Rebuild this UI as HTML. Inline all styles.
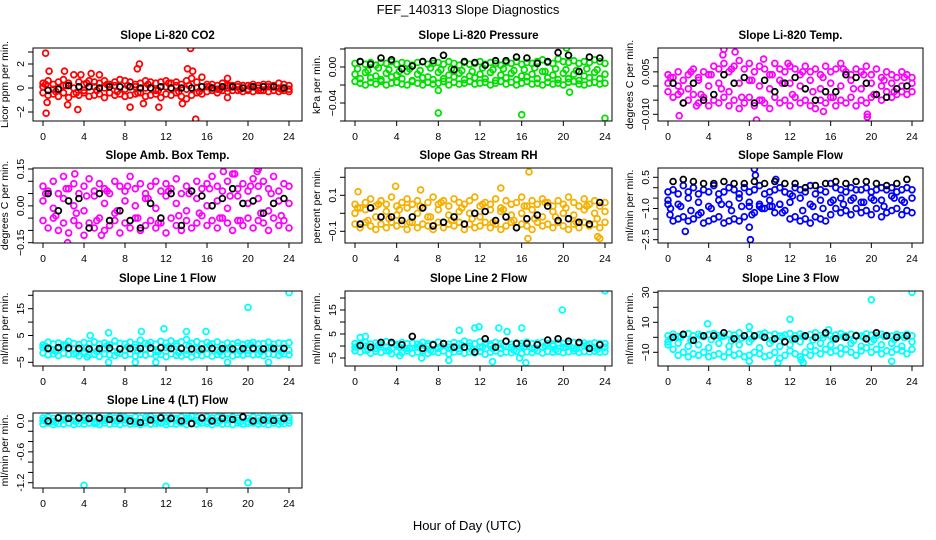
<!DOCTYPE html>
<html><head><meta charset="utf-8"><style>
html,body{margin:0;padding:0;background:#fff;}
svg{display:block;font-family:"Liberation Sans",Arial,sans-serif;}
</style></head><body>
<svg id="chart" width="936" height="540" viewBox="0 0 936 540" xmlns="http://www.w3.org/2000/svg">
<rect x="0" y="0" width="936" height="540" fill="#fff"/>
<text x="468" y="14" text-anchor="middle" font-size="13">FEF_140313  Slope Diagnostics</text>
<text x="467" y="530" text-anchor="middle" font-size="13">Hour of Day (UTC)</text>
</svg>
<script>
// ---- shared hour arrays ----
const hoursFull = [0,0.5,1,1.5,2,2.5,3,3.5,4,4.5,5,5.5,6,6.5,7,7.5,8,8.5,9,9.5,10,10.5,11,11.5,12,12.5,13,13.5,14,14.5,15,15.5,16,16.5,17,17.5,18,18.5,19,19.5,20,20.5,21,21.5,22,22.5,23,23.5,24];
const hoursInt = [0,1,2,3,4,5,6,7,8,9,10,11,12,13,14,15,16,17,18,19,20,21,22,23,24];
const hoursBlk = [0.5,1.5,2.5,3.5,4.5,5.5,6.5,7.5,8.5,9.5,10.5,11.5,12.5,13.5,14.5,15.5,16.5,17.5,18.5,19.5,20.5,21.5,22.5,23.5];
const hoursQ = [0.25,1.25,2.25,3.25,4.25,5.25,6.25,7.25,8.25,9.25,10.25,11.25,12.25,13.25,14.25,15.25,16.25,17.25,18.25,19.25,20.25,21.25,22.25,23.25];
const xTickLabels = [0,4,8,12,16,20,24];

// ---- CO2 ----
const co2Hi = [0.4,0.6,0.3,0.5,0.7,0.4,1.1,0.5,0.3,0.6,0.5,0.4,0.6,0.3,0.5,0.7,0.6,0.5,0.3,0.4,0.6,0.5,0.4,0.5,0.6,0.4,0.5,0.3,0.6,0.8,0.5,0.9,0.3,0.3,0.2,0.4,0.2,0.2,0.3,0.2,0.2,0.3,0.2,0.3,0.3,0.2,0.4,0.3,0.2];
const co2Lo = [-0.4,-0.6,-0.5,-0.7,-0.4,-0.8,-0.5,-0.6,-0.4,-0.7,-0.6,-0.5,-0.8,-0.4,-0.6,-0.5,-0.7,-0.6,-0.5,-0.4,-0.7,-0.6,-0.5,-0.8,-0.5,-0.6,-0.4,-0.7,-0.9,-0.6,-0.4,-0.5,-0.3,-0.2,-0.4,-0.2,-0.3,-0.2,-0.2,-0.3,-0.2,-0.3,-0.2,-0.2,-0.3,-0.2,-0.3,-0.2,-0.3];
const co2Mid = [0.1,-0.1,0.2,0,-0.2,0.1,0,0.2,-0.1,0.1,0,-0.2,0.1,0.2,-0.1,0,0.1,-0.1,0,0.1,-0.1,0,0.1,0,-0.1];
const co2Extra = [0.3,-0.3,0.2,-0.4,0.4,-0.2,0.3,-0.3,0.2,-0.4,0.3,-0.2,0.4,-0.3,0.2,-0.3,0.1,-0.1,0.2,-0.1,0.1,-0.2,0.1,-0.1];
const co2Blk = [-0.2,-0.1,0.2,0.1,0.1,0.0,0.1,0.1,0.1,0.0,0.0,0.1,0.0,0.0,0.0,0.1,0.0,0.1,0.1,0.0,0.1,0.1,0.1,0.0];
const co2OutT = [0.25,0.3,0.4,0.6,2.1,2.4,3.4,3.7,4.7,5.5,8.5,9.2,9.4,9.8,11.3,13.6,14.1,14.4,14.9,14.6,18,18];
const co2OutV = [2.9,-2.1,-1.2,1.4,1.4,-1.4,-1.8,1.1,1.2,1.1,-1.6,1.6,2.0,-1.3,-1.6,-1.3,1.6,3.3,-2.6,1.4,0.8,-0.8];
const co2YTicks = [-3,-2,-1,0,1,2,3];
const co2YLabels = [-2,0,2];

// ---- Pressure ----
const presHi = [0.004,0.006,0.003,0.005,0.002,0.005,0.004,0.006,0.003,0.005,0.004,0.002,0.005,0.006,0.003,0.004,0.005,0.003,0.006,0.004,0.002,0.005,0.003,0.004,0.006,0.003,0.005,0.004,0.002,0.005,0.004,0.006,0.003,0.005,0.004,0.006,0.008,0.005,0.004,0.009,0.006,0.005,0.007,0.004,0.006,0.005,0.008,0.006,0.004];
const presLo = [-0.016,-0.018,-0.020,-0.017,-0.019,-0.016,-0.020,-0.018,-0.017,-0.019,-0.020,-0.016,-0.018,-0.020,-0.017,-0.019,-0.018,-0.016,-0.020,-0.017,-0.019,-0.018,-0.016,-0.019,-0.018,-0.017,-0.020,-0.018,-0.016,-0.019,-0.017,-0.020,-0.018,-0.016,-0.019,-0.018,-0.020,-0.017,-0.019,-0.018,-0.020,-0.017,-0.016,-0.019,-0.020,-0.018,-0.017,-0.019,-0.018];
const presMid = [-0.008,-0.006,-0.010,-0.007,-0.009,-0.005,-0.008,-0.011,-0.006,-0.009,-0.007,-0.010,-0.008,-0.006,-0.009,-0.007,-0.010,-0.008,-0.005,-0.009,-0.007,-0.008,-0.010,-0.006,-0.008];
const presExtra = [-0.002,-0.004,-0.001,-0.003,-0.005,-0.002,-0.004,-0.001,-0.003,-0.002,-0.004,-0.005,-0.001,-0.003,-0.002,-0.004,-0.003,-0.001,-0.005,-0.002,-0.003,-0.004,-0.002,-0.003];
const presExtra2 = [-0.013,-0.012,-0.014,-0.011,-0.013,-0.015,-0.012,-0.014,-0.013,-0.011,-0.014,-0.012,-0.013,-0.015,-0.012,-0.014,-0.011,-0.013,-0.012,-0.014,-0.013,-0.015,-0.012,-0.013];
const presBlk = [0.006,0.003,0.010,0.008,-0.002,0.001,0.006,0.007,0.013,-0.003,0.006,0.005,0.002,0.007,0.007,0.011,0.010,0.004,0.006,0.016,0.013,-0.005,0.011,0.010];
const presOutT = [8,8,16,20.3,20.6,24];
const presOutV = [-0.026,-0.051,-0.053,0.021,-0.028,-0.057];
const presYTicks = [0.02,0,-0.02,-0.04,-0.06];
const presYLabels = [0,-0.04];

// ---- Li-820 Temp ----
const tempHi = [0.004,0.003,0.005,0.002,0.004,0.006,0.003,0.005,0.004,0.007,0.006,0.008,0.005,0.007,0.009,0.006,0.008,0.005,0.007,0.006,0.004,0.008,0.006,0.005,0.007,0.006,0.004,0.007,0.005,0.006,0.004,0.007,0.005,0.006,0.008,0.005,0.004,0.006,0.005,0.007,0.004,0.006,0.003,0.005,0.004,0.003,0.005,0.004,0.003];
const tempLo = [-0.002,-0.004,-0.003,-0.006,-0.005,-0.003,-0.006,-0.004,-0.007,-0.005,-0.006,-0.004,-0.007,-0.005,-0.008,-0.006,-0.004,-0.007,-0.005,-0.006,-0.008,-0.004,-0.006,-0.005,-0.007,-0.004,-0.006,-0.005,-0.007,-0.008,-0.005,-0.006,-0.004,-0.007,-0.005,-0.006,-0.004,-0.007,-0.005,-0.006,-0.004,-0.003,-0.005,-0.002,-0.004,-0.003,-0.002,-0.003,-0.002];
const tempMid = [0.001,0,-0.001,0.002,0,0.001,-0.002,0.001,0.002,0,-0.001,0.002,0.001,0,0.002,-0.001,0.001,0,0.002,-0.001,0.001,0,0.001,0,0.001];
const tempExtra = [0.003,-0.002,0.005,-0.003,0.004,-0.001,0.006,-0.004,0.002,-0.005,0.004,0.001,-0.003,0.005,-0.002,0.003,-0.004,0.006,-0.001,0.004,-0.003,0.002,-0.002,0.003];
const tempBlk = [0.001,-0.006,0.001,-0.005,-0.003,0.004,0.001,0.003,-0.006,0.002,-0.002,0.001,0.003,-0.001,-0.005,-0.002,-0.002,0.004,0.003,0.001,-0.003,-0.004,-0.001,0.000];
const tempOutT = [1.1,2.8,5.5,5.4,6.6,8.7,19.6,19.6,15.3,9.4,11.8];
const tempOutV = [-0.0105,-0.007,0.013,0.011,0.012,-0.012,-0.011,-0.010,-0.009,0.0095,0.008];
const tempYTicks = [0.010,0.005,0,-0.005,-0.010];
const tempYLabels = [0.005,-0.010];

// ---- Amb. Box Temp ----
const ambHi = [0.08,0.06,0.1,0.05,0.12,0.07,0.09,0.05,0.08,0.11,0.06,0.09,0.07,0.05,0.1,0.08,0.06,0.12,0.07,0.09,0.05,0.08,0.1,0.06,0.09,0.07,0.11,0.05,0.08,0.06,0.1,0.07,0.09,0.12,0.08,0.06,0.1,0.13,0.07,0.09,0.06,0.11,0.08,0.1,0.07,0.12,0.06,0.09,0.08];
const ambLo = [-0.06,-0.09,-0.05,-0.1,-0.07,-0.11,-0.06,-0.08,-0.12,-0.07,-0.09,-0.05,-0.1,-0.08,-0.06,-0.11,-0.07,-0.09,-0.05,-0.1,-0.08,-0.06,-0.09,-0.07,-0.11,-0.05,-0.08,-0.1,-0.06,-0.09,-0.07,-0.04,-0.08,-0.06,-0.09,-0.05,-0.07,-0.1,-0.06,-0.08,-0.05,-0.09,-0.06,-0.07,-0.1,-0.05,-0.08,-0.06,-0.09];
const ambMid = [0.02,-0.01,0.03,0,-0.02,0.04,0.01,-0.03,0.02,0,0.03,-0.01,0.04,0.01,-0.02,0.03,0,0.02,-0.01,0.04,0.01,0.03,-0.02,0.02,0.01];
const ambExtra = [0.05,-0.04,0.07,-0.03,0.04,-0.06,0.06,-0.02,0.08,-0.05,0.03,-0.07,0.06,-0.04,0.05,-0.03,0.07,-0.05,0.04,-0.06,0.08,-0.03,0.05,-0.04];
const ambBlk = [0.05,-0.02,0.02,0.03,-0.09,0.05,-0.06,-0.02,-0.06,-0.09,0.01,-0.05,0.05,-0.08,0.06,0.04,0.0,0.03,0.07,0.01,0.02,-0.03,0.01,0.03];
const ambOutT = [2.4,5.7,21,17.6,3.1,18.7,20.9];
const ambOutV = [-0.15,-0.12,0.15,0.14,0.13,0.13,0.14];
const ambYTicks = [0.15,0.1,0.05,0,-0.05,-0.1,-0.15];
const ambYLabels = [0.15,0.00,-0.15];

// ---- Gas Stream RH ----
const rhHi = [0.05,0.03,0.06,0.08,0.04,0.07,0.05,0.09,0.04,0.06,0.08,0.05,0.07,0.03,0.06,0.09,0.05,0.07,0.04,0.08,0.06,0.05,0.07,0.09,0.04,0.06,0.05,0.08,0.03,0.07,0.05,0.06,0.09,0.04,0.07,0.05,0.08,0.06,0.04,0.07,0.05,0.09,0.06,0.04,0.08,0.05,0.07,0.04,0.06];
const rhLo = [-0.06,-0.08,-0.05,-0.07,-0.09,-0.06,-0.08,-0.05,-0.07,-0.06,-0.09,-0.05,-0.08,-0.06,-0.07,-0.09,-0.05,-0.08,-0.06,-0.07,-0.05,-0.09,-0.06,-0.08,-0.07,-0.05,-0.08,-0.06,-0.09,-0.07,-0.05,-0.08,-0.06,-0.07,-0.09,-0.05,-0.07,-0.06,-0.08,-0.05,-0.07,-0.09,-0.06,-0.08,-0.05,-0.07,-0.06,-0.08,-0.05];
const rhMid = [0,0.02,-0.02,0.01,-0.01,0.03,0,-0.02,0.02,-0.01,0.01,0,-0.02,0.02,0.01,-0.01,0,0.02,-0.02,0.01,0,-0.01,0.02,0,0.01];
const rhExtra = [0.03,-0.04,0.05,-0.03,0.02,-0.05,0.04,-0.02,0.06,-0.04,0.03,-0.03,0.05,-0.05,0.02,-0.04,0.04,-0.03,0.06,-0.02,0.03,-0.05,0.04,-0.03];
const rhBlk = [-0.06,0.03,-0.02,-0.02,-0.04,-0.02,0.03,-0.07,-0.05,-0.02,-0.06,0.0,0.01,-0.04,-0.02,-0.08,-0.03,-0.01,0.04,-0.04,-0.03,-0.05,-0.06,0.06];
const rhOutT = [16.7,14,3.9,23.5,23.3,16.6,0.3,6.3];
const rhOutV = [0.23,0.14,0.15,-0.14,-0.13,-0.14,0.12,0.13];
const rhYTicks = [0.2,0.1,0,-0.1];
const rhYLabels = [0.1,-0.1];

// ---- Sample Flow ----
const sfHi = [-0.2,-0.1,-0.3,0.1,-0.2,0,-0.3,-0.1,-0.2,0.1,-0.3,-0.2,0,-0.1,-0.3,0,-0.2,-0.1,0.1,-0.3,-0.2,-0.1,0,-0.2,-0.3,0,-0.1,-0.2,0.1,-0.3,-0.1,-0.2,0.2,0,-0.1,-0.2,0,-0.1,-0.1,0,-0.2,-0.1,0,-0.1,0,-0.2,-0.1,0,-0.1];
const sfLo = [-0.8,-1.6,-1.5,-1.4,-1.6,-1.5,-1.3,-1.7,-1.6,-1.5,-1.4,-1.7,-1.6,-1.5,-1.6,-1.4,-0.9,-1.2,-0.8,-1.0,-0.9,-1.2,-0.8,-1.1,-1.5,-1.4,-1.6,-1.5,-1.7,-1.4,-1.5,-1.6,-1.3,-1.0,-1.2,-1.1,-1.3,-1.0,-1.2,-1.1,-1.3,-1.0,-1.4,-1.2,-1.1,-1.0,-1.3,-1.1,-1.2];
const sfMid = [-0.6,-0.8,-0.5,-0.7,-0.9,-0.6,-0.8,-0.5,-0.7,-0.9,-0.6,-0.8,-0.7,-0.5,-0.8,-0.6,-0.7,-0.5,-0.6,-0.7,-0.5,-0.6,-0.4,-0.6,-0.5];
const sfExtra = [-1.0,-0.9,-1.1,-1.2,-1.0,-0.8,-1.1,-0.9,-1.3,-1.0,-0.9,-1.2,-0.4,-1.1,-0.9,-1.0,-0.6,-0.8,-0.5,-0.7,-0.6,-0.9,-0.5,-0.7];
const sfBlk = [0.3,0.4,0.3,0.2,0.2,0.3,0.2,0.2,0.3,0.2,0.3,0.2,0.2,0.0,0.1,0.2,0.3,0.2,0.3,0.3,0.2,0.1,0.2,0.4];
const sfOutT = [8.5,8.6,1.7,8.1,10.6,0.2,8.0];
const sfOutV = [0.9,0.6,-2.1,-2.5,0.4,-1.3,-1.9];
const sfYTicks = [0.5,0,-0.5,-1.0,-1.5,-2.0,-2.5];
const sfYLabels = [0.5,-1.0,-2.5];

// ---- Line 1 Flow ----
const l1Hi = [1.5,2.5,1.8,2.2,1.5,2.8,2,1.6,2.4,1.9,2.6,1.7,2.2,1.5,2.9,2.1,1.8,2.5,1.6,3.2,2,2.4,1.7,2.8,2.2,3,1.9,2.6,3.5,2.1,2.7,1.8,2.4,1.9,2.6,1.5,2.2,1.8,2.3,1.6,2.1,2.4,1.8,2,2.5,1.7,2.2,1.9,2.3];
const l1Lo = [-1.5,-2.2,-1.8,-2.5,-1.6,-2.1,-1.9,-2.6,-1.7,-2.3,-2,-2.8,-1.8,-2.2,-2.5,-1.6,-2.4,-1.9,-2.7,-2,-2.3,-1.7,-2.5,-2.1,-2.9,-1.8,-2.4,-2.6,-2,-3,-2.2,-2.5,-1.9,-2.7,-2.1,-2.4,-1.8,-2.6,-2,-2.3,-1.7,-2.2,-2,-2.5,-1.8,-2.1,-2.4,-1.9,-2.2];
const l1Mid = [0.5,-0.5,1,0,-1,0.5,0,1,-0.5,0.5,0,-1,0.5,1,-0.5,0,0.5,-0.5,0,1,-0.5,0,0.5,0,-0.5];
const l1Extra = [1,-1,1.5,-1.5,0.5,-1,1.2,-1.3,0.8,-0.7,1.4,-1.1,0.9,-1.4,1.1,-0.8,1.3,-1.2,0.7,-0.9,1.5,-1,0.6,-1.2];
const l1Blk = [0.2,0.5,0.3,0.2,0,0.1,0.3,0,0.1,0.2,0.3,0.4,0.1,0.2,0,0,0.2,0.1,0,0.1,0.2,0,0.1,0.2];
const l1OutT = [20,24,6.4,11.8,14,15.9,6.4,9,18,22,11,9.6,4.3,4.6];
const l1OutV = [15.5,21,6,7.5,6.5,6.5,-5,-5,-5,-5,-5,6.5,-3,5];
const l1YTicks = [20,15,10,5,0,-5];
const l1YLabels = [15,5,-5];

// ---- Line 2 Flow ----
const l2Hi = [1,0.5,1.5,0.8,1.2,0.5,1.8,1,0.6,1.4,0.9,1.2,0.7,1.5,1,0.8,1.6,1.1,0.7,1.4,0.9,2,1.3,1,1.8,1.2,0.8,1.5,1,1.9,0.7,1.3,1.1,1.6,0.9,1.2,1.5,1,0.8,1.3,1.1,0.9,1.4,1,1.2,0.8,1.3,1.1,1];
const l2Lo = [-2,-2.5,-1.8,-3,-2.2,-2.7,-2,-3.2,-2.4,-2.8,-2.1,-3,-2.5,-2,-3.1,-2.3,-2.7,-2.1,-3.3,-2.5,-2.2,-3,-2.4,-2.9,-2.2,-3.4,-2.6,-2.1,-3,-2.5,-2.8,-2.2,-3.1,-2.4,-2.7,-2.1,-2.9,-2.3,-2.6,-2.2,-2.8,-2.4,-2.1,-2.7,-2.3,-2.5,-2.2,-2.6,-2.4];
const l2Mid = [-0.5,0,-1,-0.5,0,-1,-0.5,0,-1,-0.5,-1,0,-0.5,0,-1,-0.5,0,-1,-0.5,0,-0.5,-1,0,-0.5,-0.5];
const l2Extra = [0,-1.5,0.5,-2,-0.5,-1,0.3,-1.8,-0.2,-1.2,0.4,-1.6,-0.3,-1.1,0.2,-1.7,-0.4,-1.3,0.1,-1.5,-0.6,-1.2,0.3,-1.4];
const l2Blk = [0.2,-0.5,1.5,1.5,0.5,4,-1,0.5,1,-0.5,-0.5,-2.5,3,-0.5,2,1,1,0.5,2.5,3,2,1.5,-1,0.5];
const l2OutT = [24,19.9,10,11.5,11.9,13.8,16,16.4,13.2,6.4,9,14.6,0.5,1,15.8,4.3];
const l2OutV = [23,15,6.5,7.5,8,7.5,7.5,-7,-6.5,-5,-6,6,3.5,4,-5,-4];
const l2YTicks = [20,15,10,5,0,-5];
const l2YLabels = [15,5,-5];

// ---- Line 3 Flow ----
const l3Hi = [1,2,0.5,1.5,2.5,1,2,0.5,1.8,2.5,1.2,0.8,2,1.5,3,1,2.2,0.6,1.8,2.8,1.3,2,0.8,1.5,2.5,1,2.2,0.5,1.8,3,1.2,2,0.8,1.6,2.4,1,2,1.4,0.8,2.2,1.5,1,2,1.3,0.8,1.8,1.2,2,1];
const l3Lo = [-5,-8,-12,-10,-13,-11,-12,-10,-13,-12,-11,-13,-10,-12,-11,-13,-12,-10,-11,-13,-12,-10,-14,-12,-9,-11,-13,-10,-12,-9,-11,-8,-10,-9,-11,-8,-10,-12,-9,-7,-10,-8,-11,-9,-10,-8,-9,-11,-8];
const l3Mid = [-3,-4,-6,-5,-7,-4,-6,-5,-3,-7,-4,-6,-5,-3,-6,-4,-5,-7,-4,-6,-3,-5,-4,-6,-3];
const l3Extra = [-1,0,-2,1,-1.5,0.5,-2.5,-0.5,-1,0.8,-2,0,-1.2,0.6,-1.8,-0.3,-1,0.4,-2.2,0,-1.4,0.7,-1.6,-0.2];
const l3Blk = [0,2,-2,1,1,3,-1,1,1,0,-1,-3,-1,1,0,3,-1,0,1,-1,3,1,0,1];
const l3OutT = [20,24,3.9,12,8,22,13.3,8,10.8,13.1,15.8];
const l3OutV = [25,30,9,12,7,-16,-17,-16,-17,-15,5];
const l3YTicks = [30,20,10,0,-10];
const l3YLabels = [30,10,-10];

// ---- Line 4 (LT) Flow ----
const l4Hi = [0.06,0.08,0.05,0.07,0.09,0.06,0.08,0.05,0.07,0.06,0.09,0.07,0.05,0.08,0.06,0.09,0.07,0.05,0.08,0.06,0.07,0.09,0.05,0.08,0.06,0.07,0.05,0.08,0.06,0.09,0.07,0.05,0.08,0.06,0.07,0.09,0.05,0.08,0.06,0.07,0.05,0.08,0.06,0.09,0.07,0.05,0.06,0.08,0.07];
const l4Lo = [-0.06,-0.04,-0.07,-0.05,-0.06,-0.04,-0.07,-0.05,-0.06,-0.04,-0.05,-0.07,-0.04,-0.06,-0.05,-0.07,-0.04,-0.06,-0.05,-0.07,-0.04,-0.06,-0.05,-0.04,-0.07,-0.05,-0.06,-0.04,-0.07,-0.05,-0.06,-0.04,-0.05,-0.07,-0.04,-0.06,-0.05,-0.07,-0.04,-0.06,-0.05,-0.04,-0.06,-0.05,-0.07,-0.04,-0.06,-0.05,-0.04];
const l4Mid = [0.01,-0.01,0.02,0,0.01,-0.02,0.01,0,0.02,-0.01,0,0.01,-0.01,0.02,0,0.01,-0.01,0,0.02,0.01,-0.01,0,0.01,0,0.01];
const l4Extra = [0.03,-0.02,0.04,-0.01,0.02,-0.03,0.05,0,0.03,-0.02,0.04,-0.03,0.02,-0.01,0.05,-0.02,0.03,0,0.04,-0.03,0.02,-0.01,0.03,-0.02];
const l4Blk = [0.0,0.06,0.05,0.06,0.05,0.06,0.03,0.05,0.0,-0.03,0.02,0.06,0.05,0.0,-0.05,0.06,0.0,0.05,0.03,0.08,0.0,0.02,0.01,0.05];
const l4OutT = [4,12,20];
const l4OutV = [-1.25,-1.27,-1.2];
const l4YTicks = [0,-0.2,-0.4,-0.6,-0.8,-1.0,-1.2];
const l4YLabels = ['0.0','-0.6','-1.2'];

// ---- layout (positions only) ----
const cols = [{bx0:33,bx1:302,h0:43,h24:289},{bx0:345,bx1:612,h0:355,h24:605},{bx0:658,bx1:923,h0:668,h24:912}];
const rows = [{by0:48,by1:121},{by0:168,by1:243},{by0:291,by1:366},{by0:413,by1:488}];

const panels = [
 {name:'co2',title:'Slope Li-820 CO2',ylab:'Licor ppm per min.',c:0,r:0,color:'#ff0000',va:0,ya:88,vb:2,yb:64,hi:co2Hi,lo:co2Lo,mid:co2Mid,ex:[co2Extra],blk:co2Blk,oT:co2OutT,oV:co2OutV,ticks:co2YTicks,labels:co2YLabels,dec:0},
 {name:'pressure',title:'Slope Li-820 Pressure',ylab:'kPa per min.',c:1,r:0,color:'#00e000',va:0,ya:67,vb:-0.04,yb:103,hi:presHi,lo:presLo,mid:presMid,ex:[presExtra,presExtra2],blk:presBlk,oT:presOutT,oV:presOutV,ticks:presYTicks,labels:presYLabels,dec:2},
 {name:'li820-temp',title:'Slope Li-820 Temp.',ylab:'degrees C per min.',c:2,r:0,color:'#ff00ff',va:0.010,ya:57.7,vb:-0.010,yb:114.3,hi:tempHi,lo:tempLo,mid:tempMid,ex:[tempExtra],blk:tempBlk,oT:tempOutT,oV:tempOutV,ticks:tempYTicks,labels:tempYLabels,dec:3},
 {name:'amb-box-temp',title:'Slope Amb. Box Temp.',ylab:'degrees C per min.',c:0,r:1,color:'#ff00ff',va:0.15,ya:169,vb:-0.15,yb:242.7,hi:ambHi,lo:ambLo,mid:ambMid,ex:[ambExtra],blk:ambBlk,oT:ambOutT,oV:ambOutV,ticks:ambYTicks,labels:ambYLabels,dec:2},
 {name:'gas-stream-rh',title:'Slope Gas Stream RH',ylab:'percent per min.',c:1,r:1,color:'#f5b000',va:0.1,ya:195.3,vb:-0.1,yb:231.3,hi:rhHi,lo:rhLo,mid:rhMid,ex:[rhExtra],blk:rhBlk,oT:rhOutT,oV:rhOutV,ticks:rhYTicks,labels:rhYLabels,dec:1},
 {name:'sample-flow',title:'Slope Sample Flow',ylab:'ml/min per min.',c:2,r:1,color:'#0000ff',va:0.5,ya:177.3,vb:-2.5,yb:239.7,hi:sfHi,lo:sfLo,mid:sfMid,ex:[sfExtra],blk:sfBlk,oT:sfOutT,oV:sfOutV,ticks:sfYTicks,labels:sfYLabels,dec:1},
 {name:'line1-flow',title:'Slope Line 1 Flow',ylab:'ml/min per min.',c:0,r:2,color:'#00ffff',va:20,ya:295.3,vb:-5,yb:362.3,hi:l1Hi,lo:l1Lo,mid:l1Mid,ex:[l1Extra],blk:l1Blk,oT:l1OutT,oV:l1OutV,ticks:l1YTicks,labels:l1YLabels,dec:0},
 {name:'line2-flow',title:'Slope Line 2 Flow',ylab:'ml/min per min.',c:1,r:2,color:'#00ffff',va:20,ya:298,vb:-5,yb:358,hi:l2Hi,lo:l2Lo,mid:l2Mid,ex:[l2Extra],blk:l2Blk,oT:l2OutT,oV:l2OutV,ticks:l2YTicks,labels:l2YLabels,dec:0},
 {name:'line3-flow',title:'Slope Line 3 Flow',ylab:'ml/min per min.',c:2,r:2,color:'#00ffff',va:30,ya:292.3,vb:-10,yb:352.3,hi:l3Hi,lo:l3Lo,mid:l3Mid,ex:[l3Extra],blk:l3Blk,oT:l3OutT,oV:l3OutV,ticks:l3YTicks,labels:l3YLabels,dec:0},
 {name:'line4-flow',title:'Slope Line 4 (LT) Flow',ylab:'ml/min per min.',c:0,r:3,color:'#00ffff',va:0,ya:421,vb:-1.2,yb:482.7,hi:l4Hi,lo:l4Lo,mid:l4Mid,ex:[l4Extra],blk:l4Blk,oT:l4OutT,oV:l4OutV,ticks:l4YTicks,labels:l4YLabels,dec:1}
];

const NS = 'http://www.w3.org/2000/svg';
const svg = document.getElementById('chart');
function mk(tag, attrs, parent){
  const e = document.createElementNS(NS, tag);
  for (const k in attrs) e.setAttribute(k, attrs[k]);
  parent.appendChild(e);
  return e;
}
function fmt(v, d){ if (typeof v === 'string') return v; return v.toFixed(d).replace('-', '\u2212'); }

panels.forEach(p => {
  const col = cols[p.c], row = rows[p.r];
  const xs = h => col.h0 + (col.h24 - col.h0) * h / 24;
  const ys = v => p.ya + (v - p.va) * (p.yb - p.ya) / (p.vb - p.va);
  const g = mk('g', {}, svg);
  
  

  const t = mk('text', {x:(col.bx0+col.bx1)/2, y:row.by0-9, 'text-anchor':'middle', 'font-size':'11.5', 'font-weight':'bold'}, g);
  t.textContent = p.title;
  
  

  const cx = col.bx0 - 25, cy = (row.by0 + row.by1) / 2;
  const yl = mk('text', {x:cx, y:cy, 'text-anchor':'middle', 'font-size':'10.5', transform:'rotate(-90 '+cx+' '+cy+')'}, g);
  yl.textContent = p.ylab;
  
  

  const cid = 'clip-' + p.name;
  const cp = mk('clipPath', {id:cid}, g);
  mk('rect', {x:col.bx0, y:row.by0, width:col.bx1-col.bx0, height:row.by1-row.by0}, cp);
  const pts = mk('g', {'clip-path':'url(#'+cid+')', fill:'none', 'stroke-width':'1.8'}, g);
  
  

  function dot(h, v, color){
    const c = mk('circle', {cx:xs(h).toFixed(1), cy:ys(v).toFixed(1), r:'2.9', stroke:color}, pts);
    
    
  }
  for (let i = 0; i < Math.min(hoursFull.length, p.lo.length); i++) dot(hoursFull[i], p.lo[i], p.color);
  for (let i = 0; i < Math.min(hoursFull.length, p.hi.length); i++) dot(hoursFull[i], p.hi[i], p.color);
  for (let i = 0; i < Math.min(hoursInt.length, p.mid.length); i++) dot(hoursInt[i], p.mid[i], p.color);
  p.ex.forEach((arr, k) => {
    const tt = k === 0 ? hoursQ : hoursBlk;
    for (let i = 0; i < Math.min(tt.length, arr.length); i++) dot(tt[i], arr[i], p.color);
  });
  for (let i = 0; i < Math.min(p.oT.length, p.oV.length); i++) dot(p.oT[i], p.oV[i], p.color);
  for (let i = 0; i < Math.min(hoursBlk.length, p.blk.length); i++) dot(hoursBlk[i], p.blk[i], '#000');

  const box = mk('rect', {x:col.bx0, y:row.by0, width:col.bx1-col.bx0, height:row.by1-row.by0, fill:'none', stroke:'#000', 'stroke-width':'1'}, g);
  
  

  xTickLabels.forEach(h => {
    const x = xs(h);
    mk('line', {x1:x, x2:x, y1:row.by1, y2:row.by1+5, stroke:'#000'}, g);
    const tl = mk('text', {x:x, y:row.by1+19, 'text-anchor':'middle', 'font-size':'10.5'}, g);
    tl.textContent = h;
    
    
  });
  p.ticks.forEach(v => {
    const y = ys(v);
    if (y < row.by0 - 1 || y > row.by1 + 1) return;
    mk('line', {x1:col.bx0-5, x2:col.bx0, y1:y, y2:y, stroke:'#000'}, g);
  });
  p.labels.forEach(v => {
    const y = ys(typeof v === 'string' ? parseFloat(v) : v);
    const lx = col.bx0 - 9;
    const tl = mk('text', {x:lx, y:y, 'text-anchor':'middle', 'font-size':'10.5', transform:'rotate(-90 '+lx+' '+y+')'}, g);
    tl.textContent = fmt(v, p.dec);
    
    
  });
});
</script>
</body></html>
